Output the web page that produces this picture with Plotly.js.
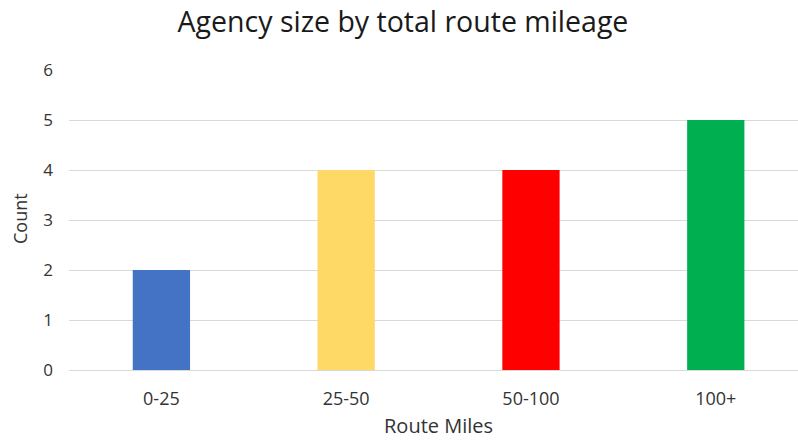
<!DOCTYPE html>
<html>
<head>
<meta charset="utf-8">
<script src="https://cdn.plot.ly/plotly-3.0.1.min.js"></script>
<style>html,body{margin:0;padding:0;background:#fff;}#chart{width:798px;height:440px;}</style>
</head>
<body>
<div id="chart"></div>
<script>
const categories = ["0-25", "25-50", "50-100", "100+"];
const counts = [2, 4, 4, 5];
const barColors = ["#4472C4", "#FFD966", "#FF0000", "#00B050"];
const yTicks = [0, 1, 2, 3, 4, 5, 6];

const font = "Open Sans, Liberation Sans, sans-serif";

const trace = {
  type: "bar",
  x: categories,
  y: counts,
  marker: { color: barColors, line: { width: 0 } },
  hoverinfo: "none"
};

const layout = {
  width: 798,
  height: 440,
  margin: { l: 69, r: 0, t: 70, b: 70 },
  paper_bgcolor: "#ffffff",
  plot_bgcolor: "#ffffff",
  showlegend: false,
  bargap: 0.69,
  title: {
    text: "Agency size by total route mileage",
    font: { family: font, size: 28.5, color: "#1a1a1a" },
    x: 0.505, xref: "container", y: 0.95, yref: "container", xanchor: "center", yanchor: "middle"
  },
  xaxis: {
    type: "category",
    range: [-0.5, 3.445],
    showgrid: false,
    zeroline: false,
    showline: true,
    linecolor: "#D9D9D9",
    linewidth: 1,
    ticks: "",
    ticklabelstandoff: 12,
    tickfont: { family: font, size: 18, color: "#333333" },
    fixedrange: true
  },
  yaxis: {
    range: [0, 6],
    tickvals: yTicks,
    ticktext: yTicks.map(String),
    showgrid: true,
    gridcolor: "#D9D9D9",
    gridwidth: 1,
    zeroline: false,
    showline: false,
    ticks: "",
    ticklabelstandoff: 15,
    tickfont: { family: font, size: 17, color: "#333333" },
    fixedrange: true
  },
  annotations: [
    {
      text: "Route Miles", xref: "paper", yref: "paper",
      x: (438 - 69) / (798 - 69), y: 0, yshift: -70, borderpad: 0,
      xanchor: "center", yanchor: "bottom", showarrow: false,
      font: { family: font, size: 20, color: "#333333" }
    },
    {
      text: "Count", xref: "paper", yref: "paper",
      x: 0, xshift: -49, y: (370 - 219) / 300,
      xanchor: "center", yanchor: "middle", textangle: -90, showarrow: false,
      font: { family: font, size: 18, color: "#333333" }
    }
  ]
};

Plotly.newPlot("chart", [trace], layout, { displayModeBar: false, staticPlot: true });
</script>
</body>
</html>
